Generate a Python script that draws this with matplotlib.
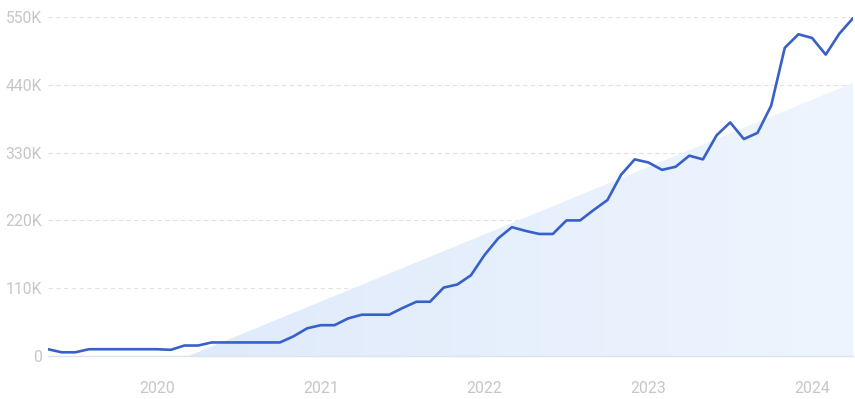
import numpy as np
import matplotlib.pyplot as plt
from matplotlib.ticker import FuncFormatter

# monthly values, May 2019 .. Apr 2024
values = [11, 6, 6, 11, 11, 11, 11, 11, 11, 10,
          17, 17, 22, 22, 22, 22, 22, 22, 32, 45,
          50, 50, 61, 67, 67, 67, 78, 88, 88, 111,
          116, 131, 164, 191, 209, 203, 198, 198, 220, 220,
          237, 253, 294, 319, 314, 302, 307, 325, 319, 358,
          379, 352, 362, 406, 500, 522, 516, 489, 523, 548]
values = np.array(values) * 1000
months = np.arange(len(values))

# trend area (start, end) in month index / value
trend_x = [10.3, 59]
trend_y = [0, 443000]

year_ticks = [8, 20, 32, 44, 56]
year_labels = ['2020', '2021', '2022', '2023', '2024']
y_ticks = [0, 110000, 220000, 330000, 440000, 550000]

plt.rcParams['font.family'] = ['Roboto', 'DejaVu Sans']

fig = plt.figure(figsize=(8.55, 3.99), dpi=100)
ax = fig.add_axes([48 / 855, 43 / 399, 805 / 855, 339 / 399])

# gradient fill for the trend triangle
poly = ax.fill_between(trend_x, trend_y, 0, color='none', lw=0)
grad = np.linspace(0, 1, 256).reshape(1, -1)
cmap = plt.matplotlib.colors.LinearSegmentedColormap.from_list('g', ['#dce8fa', '#eef5fe'])
im = ax.imshow(grad, extent=[0, 59, 0, 550000], aspect='auto', cmap=cmap,
               origin='lower', zorder=1)
im.set_clip_path(poly.get_paths()[0], transform=ax.transData)

ax.plot(months, values, color='#3760c8', lw=1.9, zorder=3, solid_joinstyle='round')

ax.set_xlim(0, 59)
ax.set_ylim(0, 550000)
ax.set_yticks(y_ticks)
ax.yaxis.set_major_formatter(FuncFormatter(lambda v, p: '0' if v == 0 else f'{int(v / 1000)}K'))
ax.set_xticks(year_ticks)
ax.set_xticklabels(year_labels)

ax.grid(axis='y', color='#e2e2e2', linestyle=(0, (4, 3)), lw=0.8, zorder=0)
ax.set_axisbelow(True)
for s in ['top', 'right', 'left']:
    ax.spines[s].set_visible(False)
ax.spines['bottom'].set_color('#dde3ee')
ax.spines['bottom'].set_linewidth(1)
ax.spines['bottom'].set_zorder(2)

ax.tick_params(axis='both', length=0, labelcolor='#c6c6c6', labelsize=11.3)
ax.tick_params(axis='y', pad=4.5)
ax.tick_params(axis='x', pad=18)

fig.savefig('out.png', dpi=100)
